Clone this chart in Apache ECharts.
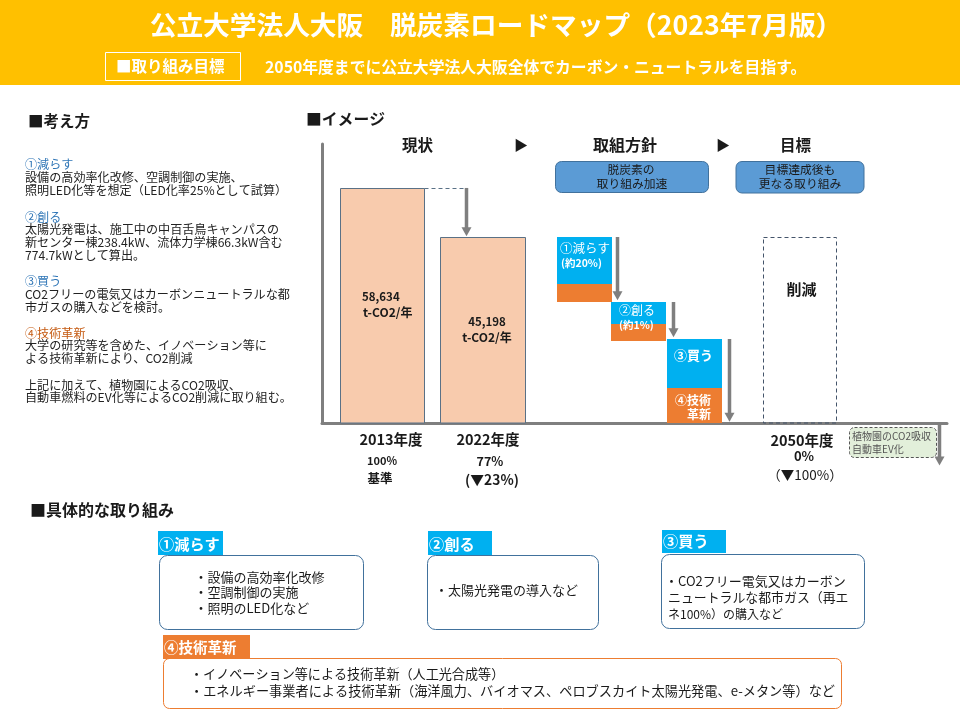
<!DOCTYPE html>
<html>
<head>
<meta charset="utf-8">
<script src="https://cdn.jsdelivr.net/npm/echarts@6/dist/echarts.min.js"></script>
<style>
html, body { margin: 0; padding: 0; background: #fff; }
#main { width: 960px; height: 720px; }
</style>
</head>
<body>
<div id="main"></div>
<script>
// 棒グラフのデータ (t-CO2/年, 図から読み取り)
var barNames = ['2013年度', '2022年度', '①減らす', '①技術革新', '②創る', '②技術革新', '③買う', '④技術革新', '削減'];
var barUpper = [58634, 46400, 46400, 34680, 30190, 24700, 20960, 8730, 46400];
var barLower = [0, 0, 34680, 30190, 24700, 20460, 8730, 0, 0];

// 矢印の始点と終点
var arrowFrom = [58634, 46400, 30190, 20960, 0];
var arrowTo = [46600, 30600, 21400, 300, -10600];

var titleText = '公立大学法人大阪　脱炭素ロードマップ（2023年7月版）';
var goalLabel = '■取り組み目標';
var goalText = '2050年度までに公立大学法人大阪全体でカーボン・ニュートラルを目指す。';
var phaseLabels = ['現状', '取組方針', '目標'];
var yearLabels = ['2013年度', '2022年度', '2050年度'];
var amountLabels = ['58,634', '45,198', 't-CO2/年'];
var ratioLabels = ['100%', '基準', '77%', '(▼23%)', '0%', '（▼100%）'];

var thinkLines = [
    '①減らす',
    '設備の高効率化改修、空調制御の実施、',
    '照明LED化等を想定（LED化率25%として試算）',
    '②創る',
    '太陽光発電は、施工中の中百舌鳥キャンパスの',
    '新センター棟238.4kW、流体力学棟66.3kW含む',
    '774.7kWとして算出。',
    '③買う',
    'CO2フリーの電気又はカーボンニュートラルな都',
    '市ガスの購入などを検討。',
    '④技術革新',
    '大学の研究等を含めた、イノベーション等に',
    'よる技術革新により、CO2削減',
    '上記に加えて、植物園によるCO2吸収、',
    '自動車燃料のEV化等によるCO2削減に取り組む。'
];
var reduceItems = ['・設備の高効率化改修', '・空調制御の実施', '・照明のLED化など'];
var createItems = ['・太陽光発電の導入など'];
var buyItems = ['・CO2フリー電気又はカーボン', 'ニュートラルな都市ガス（再エ', 'ネ100%）の購入など'];
var techItems = [
    '・イノベーション等による技術革新（人工光合成等）',
    '・エネルギー事業者による技術革新（海洋風力、バイオマス、ペロブスカイト太陽光発電、e-メタン等）など'
];

var FONT = '"Noto Sans CJK JP", "Noto Sans", sans-serif';
var GREY = '#7f7f7f';
var BLUE = '#00b0f0';
var ORANGE = '#ed7d31';

// x軸の範囲は画面の横位置に合わせてある
var barSpans = [[340.5, 424.5], [440.5, 525.5], [557, 612], [557, 612], [611, 666], [611, 666], [667, 722], [667, 722], [763.5, 836.5]];
var barStyles = [
    {fill: '#f8cbad', stroke: '#5a7186', lineWidth: 1},
    {fill: '#f8cbad', stroke: '#5a7186', lineWidth: 1},
    {fill: BLUE}, {fill: ORANGE},
    {fill: BLUE}, {fill: ORANGE},
    {fill: BLUE}, {fill: ORANGE},
    {fill: 'none', stroke: '#44546a', lineWidth: 1, lineDash: [4, 3]}
];
var arrowXs = [466.5, 617.5, 673.5, 729.5, 939.5];

function renderBar(params, api) {
    var span = barSpans[params.dataIndex];
    var topLeft = api.coord([span[0], api.value(1)]);
    var bottomRight = api.coord([span[1], api.value(2)]);
    var top = topLeft[1];
    // 枠線付きの棒はにじまないようにそろえる
    if (barStyles[params.dataIndex].stroke) {
        top = Math.round(top) + 0.5;
    }
    return {
        type: 'rect',
        shape: {
            x: topLeft[0],
            y: top,
            width: bottomRight[0] - topLeft[0],
            height: bottomRight[1] - top
        },
        style: barStyles[params.dataIndex]
    };
}

function renderArrow(params, api) {
    var x = arrowXs[params.dataIndex];
    var start = api.coord([x, api.value(1)]);
    var end = api.coord([x, api.value(2)]);
    var children = [
        {
            type: 'line',
            shape: {x1: start[0], y1: start[1], x2: end[0], y2: end[1] - 6},
            style: {stroke: GREY, lineWidth: 3.5}
        },
        {
            type: 'polygon',
            shape: {points: [[end[0] - 5, end[1] - 9], [end[0] + 5, end[1] - 9], [end[0], end[1]]]},
            style: {fill: GREY}
        }
    ];
    if (params.dataIndex === 0) {
        var from = api.coord([barSpans[0][1], api.value(1)]);
        children.push({
            type: 'line',
            shape: {x1: from[0], y1: Math.round(from[1]) + 0.5, x2: start[0], y2: Math.round(start[1]) + 0.5},
            style: {stroke: '#5a7186', lineWidth: 1, lineDash: [4, 3]}
        });
    }
    return {type: 'group', children: children};
}

function txt(x, y, text, size, opt) {
    opt = opt || {};
    return {
        type: 'text',
        z: 10,
        style: {
            x: x,
            y: y,
            text: text,
            fill: opt.color || '#1a1a1a',
            font: (opt.bold ? 'bold ' : '') + size + 'px ' + FONT,
            textAlign: opt.align || 'left',
            textVerticalAlign: 'middle'
        }
    };
}

function box(x, y, w, h, fill, stroke, r, dash) {
    return {
        type: 'rect',
        z: 5,
        shape: {x: x, y: y, width: w, height: h, r: r || 0},
        style: {fill: fill, stroke: stroke, lineWidth: 1, lineDash: dash}
    };
}

function buildGraphics() {
    var g = [];
    // ヘッダー
    g.push({type: 'rect', z: 1, shape: {x: 0, y: 0, width: 960, height: 85}, style: {fill: '#ffc000'}});
    g.push(txt(496, 25, titleText, 26.7, {color: '#fff', bold: true, align: 'center'}));
    g.push(box(105.5, 52.5, 135, 28, 'none', '#fff'));
    g.push(txt(116, 66, goalLabel, 15.5, {color: '#fff', bold: true}));
    g.push(txt(265, 67, goalText, 15.8, {color: '#fff', bold: true}));

    // 考え方
    g.push(txt(28, 121, '■考え方', 15.5, {bold: true}));
    var thinkY = [164, 177, 190, 217, 229, 242, 255, 281, 294, 307, 333, 345, 358, 385, 397];
    thinkLines.forEach(function (line, i) {
        var color = '#222';
        if (i === 0 || i === 3 || i === 7) color = '#2e75b6';
        if (i === 10) color = '#c55a11';
        g.push(txt(25, thinkY[i], line, 12.1, {color: color}));
    });

    // イメージ
    g.push(txt(306, 119, '■イメージ', 15.8, {bold: true}));
    g.push(txt(417.5, 145, phaseLabels[0], 15.5, {bold: true, align: 'center'}));
    g.push(txt(521, 145, '▶', 14, {align: 'center'}));
    g.push(txt(625, 145, phaseLabels[1], 16, {bold: true, align: 'center'}));
    g.push(txt(723, 145, '▶', 14, {align: 'center'}));
    g.push(txt(795.5, 145, phaseLabels[2], 15.5, {bold: true, align: 'center'}));

    g.push(box(555.5, 161.5, 153, 31, '#5b9bd5', '#41719c', 6));
    g.push(txt(631, 170, '脱炭素の', 11.8, {align: 'center'}));
    g.push(txt(632, 184, '取り組み加速', 11.8, {align: 'center'}));
    g.push(box(736, 161.5, 128, 31.5, '#5b9bd5', '#41719c', 6));
    g.push(txt(800, 170, '目標達成後も', 11.8, {align: 'center'}));
    g.push(txt(800, 184, '更なる取り組み', 11.8, {align: 'center'}));

    // 棒の中の文字
    g.push(txt(362, 297, amountLabels[0], 11.5, {bold: true}));
    g.push(txt(363, 312, amountLabels[2], 12, {bold: true}));
    g.push(txt(487, 322, amountLabels[1], 11.5, {bold: true, align: 'center'}));
    g.push(txt(487, 337, amountLabels[2], 12, {bold: true, align: 'center'}));
    g.push(txt(560, 248, '①減らす', 12.5, {color: '#fff'}));
    g.push(txt(561, 263, '(約20%)', 10.5, {color: '#fff', bold: true}));
    g.push(txt(619, 310, '②創る', 12, {color: '#fff'}));
    g.push(txt(619, 325, '(約1%)', 10.5, {color: '#fff', bold: true}));
    g.push(txt(693.5, 355, '③買う', 13, {color: '#fff', bold: true, align: 'center'}));
    g.push(txt(711, 400, '④技術', 12, {color: '#fff', bold: true, align: 'right'}));
    g.push(txt(711, 414, '革新', 12, {color: '#fff', bold: true, align: 'right'}));
    g.push(txt(801.5, 289, '削減', 15, {bold: true, align: 'center'}));

    // 軸の下の文字
    g.push(txt(391, 439, yearLabels[0], 14.5, {bold: true, align: 'center'}));
    g.push(txt(488, 439, yearLabels[1], 14.5, {bold: true, align: 'center'}));
    g.push(txt(382, 461, ratioLabels[0], 11, {bold: true, align: 'center'}));
    g.push(txt(380, 478, ratioLabels[1], 12.5, {bold: true, align: 'center'}));
    g.push(txt(490, 461, ratioLabels[2], 12.5, {bold: true, align: 'center'}));
    g.push(txt(492, 480, ratioLabels[3], 13.8, {bold: true, align: 'center'}));
    g.push(txt(802, 440, yearLabels[2], 14.5, {bold: true, align: 'center'}));
    g.push(txt(804, 456, ratioLabels[4], 13, {bold: true, align: 'center'}));
    g.push(txt(805, 475, ratioLabels[5], 13.5, {align: 'center'}));

    g.push(box(849.5, 427.5, 87, 30, '#e2efda', '#555', 5, [3, 2]));
    g.push(txt(852, 436, '植物園のCO2吸収', 10, {color: '#555'}));
    g.push(txt(852, 449, '自動車EV化', 10, {color: '#555'}));

    // 具体的な取り組み
    g.push(txt(30, 510, '■具体的な取り組み', 16, {bold: true}));
    g.push(box(159.5, 555.5, 204, 74, '#fff', '#41719c', 8));
    g.push(box(427.5, 555.5, 171, 74, '#fff', '#41719c', 8));
    g.push(box(661.5, 554.5, 203, 74, '#fff', '#41719c', 8));
    g.push(box(163.5, 658.5, 678, 50, '#fff', ORANGE, 6));
    g.push({type: 'rect', z: 6, shape: {x: 158, y: 531, width: 65, height: 24}, style: {fill: BLUE}});
    g.push({type: 'rect', z: 6, shape: {x: 428, y: 531, width: 64, height: 24}, style: {fill: BLUE}});
    g.push({type: 'rect', z: 6, shape: {x: 662, y: 530, width: 64, height: 23}, style: {fill: BLUE}});
    g.push({type: 'rect', z: 6, shape: {x: 163, y: 635, width: 87, height: 24}, style: {fill: ORANGE}});
    g.push(txt(159, 544, '①減らす', 15.2, {color: '#fff', bold: true}));
    g.push(txt(429, 544, '②創る', 15.2, {color: '#fff', bold: true}));
    g.push(txt(663, 541, '③買う', 15.2, {color: '#fff', bold: true}));
    g.push(txt(164, 647, '④技術革新', 14.5, {color: '#fff', bold: true}));

    reduceItems.forEach(function (line, i) {
        g.push(txt(194.5, 577 + i * 15.5, line, 13));
    });
    g.push(txt(435, 590, createItems[0], 13));
    g.push(txt(665, 581, buyItems[0], 13));
    g.push(txt(668, 597.5, buyItems[1], 12.9));
    g.push(txt(668, 614, buyItems[2], 12));
    g.push(txt(190, 674, techItems[0], 13.1));
    g.push(txt(190, 691, techItems[1], 13.2));
    return g;
}

function draw_roadmap() {
    var myChart = echarts.init(document.getElementById('main'));
    var barData = barNames.map(function (name, i) {
        return {name: name, value: [i, barUpper[i], barLower[i]]};
    });
    var arrowData = arrowFrom.map(function (v, i) {
        return [i, v, arrowTo[i]];
    });
    var option = {
        animation: false,
        backgroundColor: '#fff',
        grid: {left: 322, right: 13, top: 144, bottom: 297},
        xAxis: {
            type: 'value',
            min: 322,
            max: 947,
            axisLine: {show: true, onZero: true, lineStyle: {color: GREY, width: 3}},
            axisTick: {show: false},
            axisLabel: {show: false},
            splitLine: {show: false}
        },
        yAxis: {
            type: 'value',
            min: 0,
            max: 69600,
            axisLine: {show: true, lineStyle: {color: GREY, width: 3}},
            axisTick: {show: false},
            axisLabel: {show: false},
            splitLine: {show: false}
        },
        series: [
            {
                name: 'CO2排出量',
                type: 'custom',
                clip: false,
                renderItem: renderBar,
                encode: {y: [1, 2]},
                data: barData
            },
            {
                name: '矢印',
                type: 'custom',
                clip: false,
                renderItem: renderArrow,
                encode: {y: [1, 2]},
                data: arrowData,
                z: 3
            }
        ],
        graphic: buildGraphics()
    };
    myChart.setOption(option);
}

draw_roadmap();
</script>
</body>
</html>
